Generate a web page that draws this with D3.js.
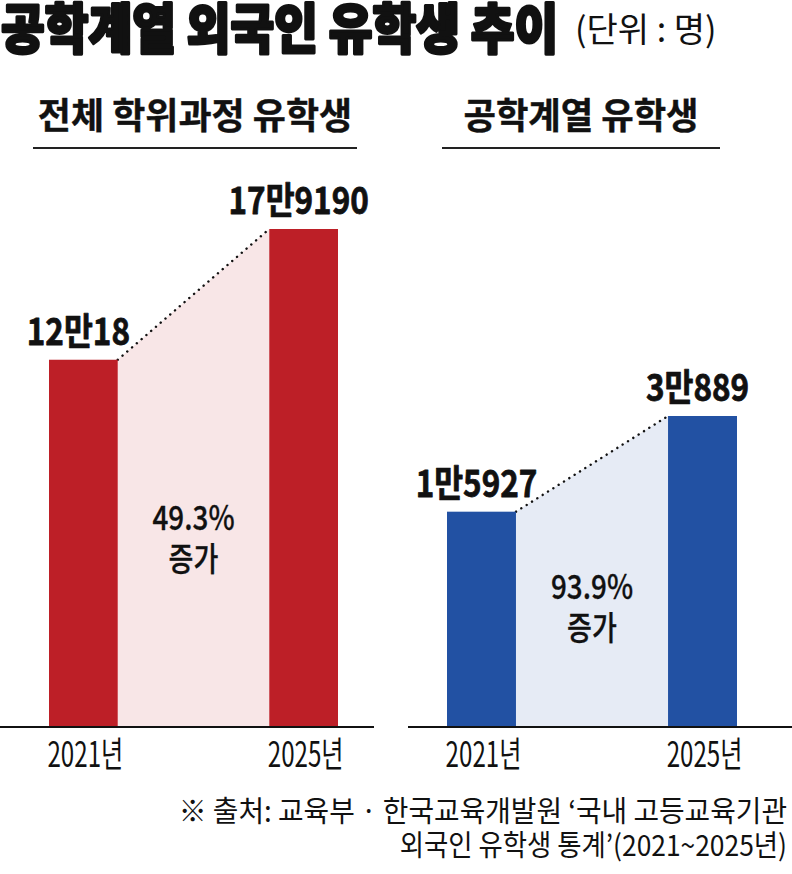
<!DOCTYPE html>
<html>
<head>
<meta charset="utf-8">
<script src="https://cdn.jsdelivr.net/npm/d3@7"></script>
<style>
  body { margin: 0; background: #fff; }
  svg { display: block; font-family: "Noto Sans CJK KR", "Noto Sans", sans-serif; }
</style>
</head>
<body>
<svg id="chart" width="792" height="874"></svg>
<script>
// data
const years = ["2021", "2025"];
const totalStudents = [120018, 179190]; // 전체 학위과정 유학생
const engStudents = [15927, 30889]; // 공학계열 유학생
const panelTitles = ["전체 학위과정 유학생", "공학계열 유학생"];

const RED = "#bd1f27";
const PINK = "#f8e6e7";
const BLUE = "#2251a3";
const LIGHTBLUE = "#e6ebf5";

// layout per panel (the original bars don't start from zero, so each scale has its own floor)
const panels = [
  { title: panelTitles[0], values: totalStudents, bar: RED, fill: PINK, titleSx: 1.0,
    x: [49, 338], axis: [0, 374], rule: [33, 357], floor: -46200, top: 229, textY: 530 },
  { title: panelTitles[1], values: engStudents, bar: BLUE, fill: LIGHTBLUE, titleSx: 0.98,
    x: [447, 737], axis: [408, 792], rule: [442, 720], floor: -17740, top: 416, textY: 599 },
];
const baseY = 727;

const svg = d3.select("#chart");

function txt(parent, x, y, s, o) {
  const t = parent
    .append("text")
    .attr("transform", `translate(${x},${y}) scale(${o.sx || 1},1)`)
    .attr("text-anchor", o.anchor || "middle")
    .attr("font-size", o.size)
    .attr("font-weight", o.weight || 400)
    .attr("fill", "#111")
    .text(s);
  // fake a heavier weight than the font has
  if (o.stroke) {
    t.attr("stroke", "#111")
      .attr("stroke-width", o.stroke)
      .attr("stroke-linejoin", "round");
  }
  return t;
}

// 12만18 style
const fmtMan = (v) => {
  const man = Math.floor(v / 10000);
  const rest = v % 10000;
  return (man ? man + "만" : "") + (rest ? rest : "");
};

// header
txt(svg, 1, 49, "공학계열 외국인 유학생 추이", { anchor: "start", size: 54, weight: 900, sx: 0.88, stroke: 3 });
txt(svg, 575, 42, "(단위 : 명)", { anchor: "start", size: 34, weight: 400, sx: 1.0 });

panels.forEach((p) => {
  const g = svg.append("g");
  const x = d3.scaleBand().domain(years).range(p.x).paddingInner(0.688);
  const y = d3.scaleLinear().domain([p.floor, p.values[1]]).range([baseY, p.top]);

  // subtitle + rule
  const cx = (p.rule[0] + p.rule[1]) / 2;
  txt(g, cx, 129, p.title, { size: 36, weight: 700, sx: p.titleSx, stroke: 0.4 });
  g.append("line")
    .attr("x1", p.rule[0]).attr("x2", p.rule[1])
    .attr("y1", 148).attr("y2", 148)
    .attr("stroke", "#222").attr("stroke-width", 2);

  // shaded area between the two bars
  const x1 = x(years[0]) + x.bandwidth();
  const x2 = x(years[1]);
  const ends = [{ x: x1, v: p.values[0] }, { x: x2, v: p.values[1] }];
  g.append("path")
    .datum(ends)
    .attr("d", d3.area().x((d) => d.x).y0(baseY).y1((d) => y(d.v)))
    .attr("fill", p.fill);

  // dotted connector
  g.append("path")
    .datum(ends)
    .attr("d", d3.line().x((d) => d.x).y((d) => y(d.v)))
    .attr("fill", "none")
    .attr("stroke", "#111")
    .attr("stroke-width", 2.4)
    .attr("stroke-linecap", "round")
    .attr("stroke-dasharray", "0.1,6.2");

  // bars
  g.selectAll("rect.bar")
    .data(p.values)
    .join("rect")
    .attr("class", "bar")
    .attr("x", (d, i) => x(years[i]))
    .attr("y", (d) => y(d))
    .attr("width", x.bandwidth())
    .attr("height", (d) => baseY - y(d))
    .attr("fill", p.bar);

  // value labels
  p.values.forEach((v, i) => {
    txt(g, x(years[i]) + x.bandwidth() / 2 - 5, y(v) - 15, fmtMan(v), { size: 37, weight: 700, sx: 0.85, stroke: 0.8 });
  });

  // growth
  const pct = ((p.values[1] / p.values[0] - 1) * 100).toFixed(1) + "%";
  const mx = (x1 + x2) / 2;
  txt(g, mx, p.textY, pct, { size: 34, weight: 500, sx: 0.82, stroke: 0.3 });
  txt(g, mx, p.textY + 41, "증가", { size: 33, weight: 500, sx: 0.82, stroke: 0.3 });

  // baseline + years
  g.append("line")
    .attr("x1", p.axis[0]).attr("x2", p.axis[1])
    .attr("y1", baseY).attr("y2", baseY)
    .attr("stroke", "#111").attr("stroke-width", 2);
  years.forEach((yr) => {
    txt(g, x(yr) + x.bandwidth() / 2 + 2, 767, yr + "년", { size: 35, weight: 400, sx: 0.69 });
  });
});

// source
txt(svg, 787, 822, "※ 출처: 교육부 · 한국교육개발원 ‘국내 고등교육기관", { anchor: "end", size: 29, weight: 400, sx: 0.96 });
txt(svg, 787, 856, "외국인 유학생 통계’(2021~2025년)", { anchor: "end", size: 29, weight: 400, sx: 0.91 });
</script>
</body>
</html>
